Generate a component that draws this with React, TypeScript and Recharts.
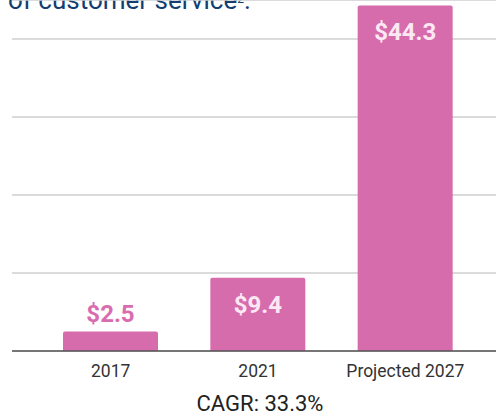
import {BarChart, Bar, XAxis, YAxis, CartesianGrid, LabelList} from 'recharts';

const years = ['2017', '2021', 'Projected 2027'];
const marketSize = [2.5, 9.4, 44.3];
const yTicks = [0, 10, 20, 30, 40];

const chartData = years.map((year, i) => ({year, value: marketSize[i]}));

const BAR_COLOR = '#d66cab';

// small bars get their label above the bar, taller ones inside near the top
const ValueLabel = (props: any) => {
  const {x, y, width, height, value} = props;
  const cx = x + width / 2;
  const text = `$${value}`;
  if (height < 30) {
    return (
      <text
        x={cx}
        y={y - 10}
        textAnchor="middle"
        fontFamily="Roboto, sans-serif"
        fontWeight={700}
        fontSize={24}
        fill="#d96cae"
        stroke="#ffffff"
        strokeWidth={5}
        paintOrder="stroke"
        strokeLinejoin="round">
        {text}
      </text>
    );
  }
  return (
    <text
      x={cx}
      y={y + 35}
      textAnchor="middle"
      fontFamily="Roboto, sans-serif"
      fontWeight={700}
      fontSize={24}
      fill="#fce8f4">
      {text}
    </text>
  );
};

const App = () => {
  return (
    <div style={{position: 'absolute', left: 0, top: 0, width: 496, height: 416, background: '#fff', overflow: 'hidden'}}>
      <div
        style={{
          position: 'absolute',
          left: 8,
          top: -14,
          fontFamily: 'Roboto, sans-serif',
          fontSize: 26,
          lineHeight: '28px',
          color: '#123e72',
          whiteSpace: 'nowrap',
        }}>
        of customer service<sup style={{fontSize: 12, verticalAlign: '0.5em', lineHeight: 0}}>2</sup>.
      </div>
      <BarChart
        width={496}
        height={416}
        data={chartData}
        margin={{top: 0, right: 0, bottom: 35, left: 12}}>
        <CartesianGrid vertical={false} stroke="#cfcfcf" strokeWidth={1.5} />
        <YAxis hide domain={[0, 45]} ticks={yTicks} allowDataOverflow />
        <XAxis
          dataKey="year"
          padding={{left: 25, right: 17}}
          tickLine={false}
          axisLine={{stroke: '#555', strokeWidth: 1.5}}
          tickMargin={8}
          height={30}
          tick={{fill: '#333', fontSize: 17.5, fontFamily: 'Roboto, sans-serif'}}
        />
        <Bar dataKey="value" fill={BAR_COLOR} barSize={95} radius={[2, 2, 0, 0]} isAnimationActive={false}>
          <LabelList dataKey="value" content={ValueLabel} />
        </Bar>
      </BarChart>
      <div
        style={{
          position: 'absolute',
          left: 0,
          width: 520,
          top: 391,
          textAlign: 'center',
          fontFamily: 'Roboto, sans-serif',
          fontSize: 22,
          lineHeight: '26px',
          color: '#222',
        }}>
        CAGR: 33.3%
      </div>
    </div>
  );
};

export default App;
